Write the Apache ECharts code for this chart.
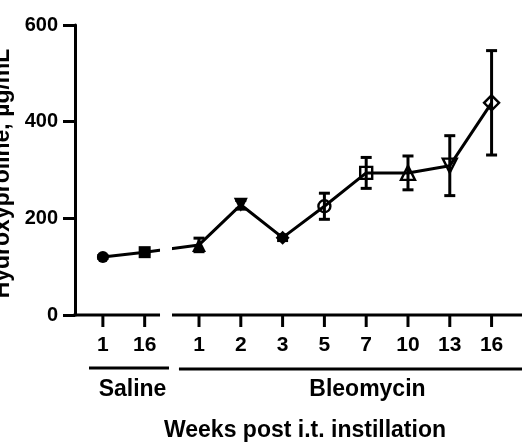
<!DOCTYPE html>
<html><head><meta charset="utf-8">
<script src="https://cdn.jsdelivr.net/npm/echarts@6/dist/echarts.min.js"></script>
<style>html,body{margin:0;padding:0;background:#fff}#c{width:522px;height:444px}</style>
</head><body><div id="c"></div>
<script>
// ---- data ----
const salineWeeks = ['1', '16'];
const salineMean = [120, 130];
const salineErr = [3, 4];
const bleoWeeks = ['1', '2', '3', '5', '7', '10', '13', '16'];
const bleoMean = [145, 228, 160, 225, 294, 294, 309, 439];
const bleoErr = [14, 9, 6, 27, 32, 35, 62, 108];
const yTicks = [0, 200, 400, 600];
const groupNames = ['Saline', 'Bleomycin'];
const xTitle = 'Weeks post i.t. instillation';
const yTitle = 'Hydroxyproline, µg/mL';

// ---- layout constants (axis coordinates) ----
const BLEO_OFFSET = 2.3;
const XMIN = -0.667, XMAX = 9.98;
const BREAK_START = 1.367, BREAK_END = 1.654;
const FONT = 'Liberation Sans, Arial, sans-serif';

const points = [];
salineMean.forEach((v, i) => points.push({ x: i, y: v, err: salineErr[i], label: salineWeeks[i] }));
bleoMean.forEach((v, j) => points.push({ x: j + BLEO_OFFSET, y: v, err: bleoErr[j], label: bleoWeeks[j] }));

// symbol, filled, rotate, size
const markerStyles = [
  ['circle', true, 0, 12], ['rect', true, 0, 12],
  ['triangle', true, 0, 14], ['triangle', true, 180, 14], ['diamond', true, 0, 14],
  ['circle', false, 0, 12], ['rect', false, 0, 12], ['triangle', false, 0, 14],
  ['triangle', false, 180, 14], ['diamond', false, 0, 15]
];

const chart = echarts.init(document.getElementById('c'), null, { renderer: 'canvas' });

const option = {
  animation: false,
  backgroundColor: '#fff',
  grid: { left: 75, right: 2, top: 25, bottom: 129 },
  xAxis: { type: 'value', min: XMIN, max: XMAX, show: false },
  yAxis: {
    type: 'value', min: yTicks[0], max: yTicks[yTicks.length - 1], interval: yTicks[1] - yTicks[0],
    axisLine: { show: true, onZero: false, lineStyle: { color: '#000', width: 3 } },
    axisTick: { show: true, length: 12, lineStyle: { color: '#000', width: 3 } },
    axisLabel: { fontSize: 20, fontWeight: 'bold', color: '#000', margin: 17, fontFamily: FONT },
    splitLine: { show: false }
  },
  series: [
    {
      type: 'line', z: 3,
      lineStyle: { color: '#000', width: 3 },
      data: points.map((p, i) => {
        const m = markerStyles[i];
        return {
          value: [p.x, p.y], symbol: m[0], symbolRotate: m[2], symbolSize: m[3],
          itemStyle: m[1] ? { color: '#000', borderWidth: 0 } : { color: 'rgba(255,255,255,0)', borderColor: '#000', borderWidth: 2.4 }
        };
      })
    },
    {
      type: 'custom', z: 4,
      encode: { x: 0, y: [1, 2] },
      data: points.map(p => [p.x, p.y - p.err, p.y + p.err]),
      renderItem: (params, api) => {
        const x = api.value(0);
        const lo = api.coord([x, api.value(1)]);
        const hi = api.coord([x, api.value(2)]);
        const w = 5.5;
        const st = { stroke: '#000', lineWidth: 3 };
        return {
          type: 'group', children: [
            { type: 'line', shape: { x1: lo[0], y1: lo[1], x2: hi[0], y2: hi[1] }, style: st },
            { type: 'line', shape: { x1: lo[0] - w, y1: lo[1], x2: lo[0] + w, y2: lo[1] }, style: st },
            { type: 'line', shape: { x1: hi[0] - w, y1: hi[1], x2: hi[0] + w, y2: hi[1] }, style: st }
          ]
        };
      }
    }
  ]
};
chart.setOption(option);

const px = x => chart.convertToPixel({ xAxisIndex: 0, yAxisIndex: 0 }, [x, 0])[0];
const py = y => chart.convertToPixel({ xAxisIndex: 0, yAxisIndex: 0 }, [XMIN, y])[1];
const y0 = py(0);
const yTop = py(yTicks[yTicks.length - 1]);
const lineSt = { stroke: '#000', lineWidth: 3 };
const txt = (text, x, y, size, rot) => ({
  type: 'text', x: x, y: y, rotation: rot || 0, z: 110,
  style: { text: text, fontSize: size, fontWeight: 'bold', fontFamily: FONT, fill: '#000',
           align: 'center', verticalAlign: 'middle', textAlign: 'center', textVerticalAlign: 'middle' }
});

const g = [];
// break gap in data line
g.push({ type: 'rect', z: 100, shape: { x: px(BREAK_START), y: yTop, width: px(BREAK_END) - px(BREAK_START), height: y0 - yTop + 10 }, style: { fill: '#fff' } });
// x axis segments
g.push({ type: 'line', z: 105, shape: { x1: px(XMIN) - 1.5, y1: y0, x2: px(BREAK_START), y2: y0 }, style: lineSt });
g.push({ type: 'line', z: 105, shape: { x1: px(BREAK_END), y1: y0, x2: px(XMAX) + 2, y2: y0 }, style: lineSt });
// ticks and labels
points.forEach(p => {
  const x = px(p.x);
  g.push({ type: 'line', z: 105, shape: { x1: x, y1: y0, x2: x, y2: y0 + 12 }, style: lineSt });
  g.push(txt(p.label, x, y0 + 30, 21));
});
// group brackets
g.push({ type: 'line', z: 105, shape: { x1: px(-0.332), y1: y0 + 53, x2: px(1.582), y2: y0 + 53 }, style: lineSt });
g.push({ type: 'line', z: 105, shape: { x1: px(1.82), y1: y0 + 54, x2: px(XMAX) + 4, y2: y0 + 54 }, style: lineSt });
g.push(txt(groupNames[0], px(0.709), y0 + 74.5, 23));
g.push(txt(groupNames[1], px(6.33), y0 + 74.5, 23));
// axis titles
g.push(txt(xTitle, 305, y0 + 115.5, 23));
g.push(txt(yTitle, 3, 173.5, 23, Math.PI / 2));

chart.setOption({ graphic: g });
</script>
</body></html>
